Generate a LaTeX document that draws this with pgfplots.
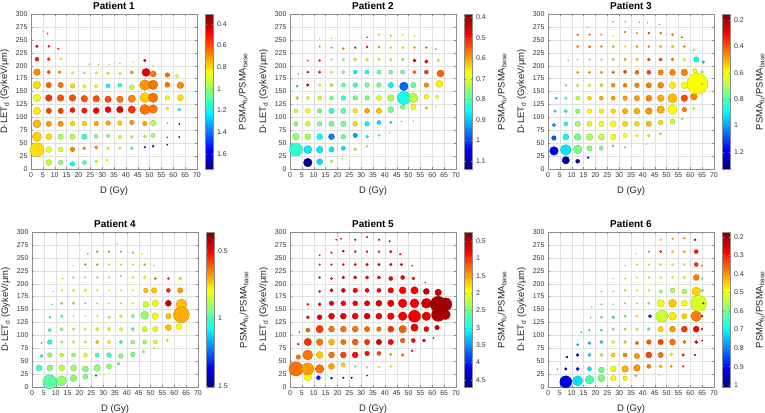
\documentclass[border=0pt]{standalone}
\usepackage{pgfplots}
\pgfplotsset{compat=1.18}
\usepackage{fontspec}
\setmainfont{Liberation Sans}
\pgfplotsset{
  /pgf/number format/assume math mode=true,
  pat/.style={
    scale only axis, width=166bp, height=155bp,
    anchor=south west,
    xmin=0, xmax=70, ymin=0, ymax=300,
    xtick={0,5,...,70}, ytick={0,25,...,300},
    grid=major, grid style={black!12, line width=0.3bp},
    axis line style={black!45, line width=0.4bp},
    every tick/.style={black!45, line width=0.3bp},
    tick align=inside, major tick length=1.8bp,
    ticklabel style={font=\fontsize{7}{8}\selectfont, text=black!80},
    xlabel={D (Gy)},
    ylabel={D·LET\textsubscript{d} (GykeV/μm)},
    label style={font=\fontsize{9.5}{11}\selectfont, text=black!85},
    xlabel style={yshift=-2bp},
    title style={font=\bfseries\fontsize{10}{12}\selectfont, yshift=-5bp},
    colormap/jet,
    colorbar,
    colorbar style={at={(parent axis.north east)}, anchor=north west,
      scale only axis, width=8bp, height=155bp,
      axis line style={black!45, line width=0.4bp},
      every tick/.style={black!45, line width=0.3bp}, major tick length=1.5bp,
      yticklabel style={font=\fontsize{7}{8}\selectfont, text=black!80},
      ylabel={PSMA\textsubscript{fu}/PSMA\textsubscript{base}},
      ylabel style={at={(rel axis cs:4.7,0.5)}, anchor=center, font=\fontsize{9.5}{11}\selectfont, text=black!85}},
  },
  bub/.style={scatter, only marks, mark=*, point meta={-\thisrow{c}},
    visualization depends on={\thisrow{r}\as\rad},
    scatter/@pre marker code/.append style={/tikz/mark size=\rad}},
}
\begin{document}
\begin{tikzpicture}
\path[use as bounding box] (0,0) rectangle (765bp,413bp);
% Patient 1
\begin{axis}[pat, at={(31bp,244bp)}, title={Patient 1},
  point meta min=-1.74, point meta max=-0.31,
  colorbar style={ytick={-1.6,-1.4,-1.2,-1,-0.8,-0.6,-0.4}, yticklabels={1.6,1.4,1.2,1,0.8,0.6,0.4}}]
\addplot[bub] table{
x y r c
2.5 37.5 7 0.8
2.5 62.5 4.7 0.78
2.5 87.5 4 0.75
2.5 112.5 3.7 0.82
2.5 137.5 3.7 0.87
2.5 162.5 3.8 0.8
2.5 187.5 3.3 0.68
2.5 212.5 2 0.55
2.5 237.5 1.3 0.45
7.5 12.5 3 0.92
7.5 37.5 3 0.87
7.5 62.5 3 0.8
7.5 87.5 2.7 0.7
7.5 112.5 2.7 0.58
7.5 137.5 3.3 0.55
7.5 162.5 2.7 0.62
7.5 187.5 1.8 0.6
7.5 212.5 1.5 0.58
7.5 237.5 1 0.5
7 262 0.7 0.65
5 266 0.5 0.8
12.5 12.5 2.3 1.0
12.5 37.5 2.3 0.87
12.5 62.5 2.7 0.95
12.5 87.5 2.7 0.7
12.5 112.5 2.7 0.58
12.5 137.5 3.3 0.6
12.5 162.5 2.7 0.65
12 187.5 1.5 0.7
12.5 213 1 0.85
11.5 233 0.7 0.5
17.5 10 2.3 1.2
17.5 38 2.3 0.68
17.5 62.5 2.7 0.95
17.5 88 2.3 0.78
17.5 114 2.5 0.52
17.5 137.5 3.3 0.6
17.5 161 2.3 0.8
17.5 186 1.2 0.85
22.5 12.5 2 1.08
22.5 40 1.5 0.7
22.5 62.5 2.7 1.12
22.5 88 2.3 0.78
22.5 113 2.7 0.52
22.5 136 3.3 0.6
22.5 160 1.8 0.87
22.5 186 1.2 0.88
24.5 203 0.6 0.85
27.5 15 1.3 0.9
27.5 42 1.5 0.68
27.5 63 2 1.0
27.5 88 2.3 0.72
27.5 113 3 0.48
27.5 136 3.3 0.6
27.5 160 1.8 0.87
27.5 186 1.2 0.85
28.5 202 0.5 0.75
32 17 1 0.88
32.5 40 1.3 0.92
32.5 64 1.8 1.0
32.5 89 2.3 0.72
32.5 115 3 0.48
32.5 135 3.3 0.6
32.5 161 2 1.2
32.5 185 1.3 0.82
33 202 0.5 0.8
37.5 40 1.2 0.93
37.5 62 1.8 0.87
37.5 89 2.3 0.78
37.5 115 3.3 0.47
37.5 135 3.3 0.65
37.5 162 2 1.12
37.5 185 1.3 0.85
37.5 204 0.5 0.8
42.5 40 1.2 1.15
42.5 62 1.5 0.87
42.5 90 2.3 0.7
42.5 115 3.7 0.55
42.5 136 3.7 0.68
42.5 158 2.5 0.93
42.5 187 1.7 0.72
43 207 0.5 0.85
48 42 1 1.45
48 63 1.5 0.92
48 88 2.3 0.72
48 115 5 0.65
48 138 5 0.78
48 162.5 5.3 0.7
48.5 187 4 0.45
48 210 1.3 0.45
51.5 44 1 1.6
51.5 65 2 1.0
51.5 89 2.7 0.95
51.5 116 4.3 0.65
51.5 138 4.7 0.65
51.5 163 4.7 0.65
51.5 184 3 0.65
51.5 200 0.5 0.8
57.5 47 0.6 1.6
57.5 61 0.6 1.4
57.5 89 0.5 1.2
57.5 117 1.5 0.87
57.5 137.5 2.3 0.85
57.5 163 2.5 0.65
57.5 182 2.3 0.65
62.5 62 0.6 1.65
62.5 87 0.6 1.7
62.5 115 1.5 1.2
63 138 3 0.8
63 162 3.3 0.68
61.5 180 1.7 0.85
};
\end{axis}
% Patient 2
\begin{axis}[pat, at={(290bp,244bp)}, title={Patient 2},
  point meta min=-1.14, point meta max=-0.384,
  colorbar style={ytick={-1.1,-1,-0.9,-0.8,-0.7,-0.6,-0.5,-0.4}, yticklabels={1.1,1,0.9,0.8,0.7,0.6,0.5,0.4}}]
\addplot[bub] table{
x y r c
2.5 37.5 6.5 0.82
2.5 62.5 3.3 0.75
2.5 87.5 2.3 0.76
2.5 112.5 2 0.7
3 137.5 1.5 0.62
3 160 1 0.9
3.5 184 0.6 0.8
7.5 12.5 4.3 1.13
7.5 37.5 4 0.87
7.5 62.5 3 0.73
7.5 87.5 2.5 0.7
7.5 112.5 2.3 0.68
7.5 137.5 1.7 0.68
7.5 162.5 1.3 0.45
7.5 187.5 1 0.45
7.5 210 0.6 0.5
12.5 14 3 0.88
12.5 37.5 3.3 0.87
12.5 62.5 3 0.85
12.5 87.5 2.3 0.77
12.5 112.5 2.3 0.77
12.5 137.5 2 0.7
12.5 162.5 1.3 0.68
12.5 187.5 1.3 0.52
12.5 210 1 0.5
12.5 237 0.8 0.6
12.5 252 0.5 0.7
17.5 15 1.7 0.72
17.5 38 2.7 0.87
17.5 62.5 3 0.95
17.5 87.5 2.7 0.77
17.5 112.5 2.7 0.82
17.5 137.5 2 0.77
17.5 162.5 1.7 0.72
17.5 187.5 1.3 0.68
17.5 212 1 0.68
17.5 235 0.8 0.6
17.5 253 0.5 0.7
22 20 0.5 0.7
22.5 40 2 0.88
22.5 62.5 2.3 0.78
22.5 87.5 2.7 0.77
22.5 112.5 2.7 0.78
22.5 137.5 2.3 0.82
22.5 162.5 2 0.78
22.5 187.5 1.7 0.76
22.5 212 1.3 0.7
22.5 233 1 0.6
27.5 38 1.5 0.72
27.5 65 2.3 0.92
27.5 87.5 2.3 0.64
27.5 112.5 2.3 0.65
27.5 137.5 2.3 0.77
27.5 162.5 2.3 0.82
27.5 187.5 2 0.85
27.5 212 1.5 0.65
27.5 235 1 0.5
32.5 44 0.8 0.77
32.5 62.5 1.5 0.85
32.5 87.5 2.3 0.86
32.5 112.5 2.5 0.6
32.5 137.5 2.3 0.77
32.5 162.5 2.3 0.77
32.5 187.5 2 0.85
32.5 212 1.5 0.68
32.5 236 1 0.5
32.5 255 0.5 0.5
37.5 65 1 0.78
37.5 90 2 0.88
37.5 112.5 2.7 0.62
37.5 137.5 2.5 0.68
37.5 162.5 2.3 0.77
37.5 187.5 2 0.78
37.5 212 1.3 0.7
37.5 236 1 0.6
37.5 260 0.6 0.6
42 70 0.5 0.7
42.5 90 1.2 0.87
42.5 115 3 0.77
42.5 137.5 3.3 0.73
42.5 162.5 2.7 0.86
42.5 187.5 2 0.78
42.5 212 1.3 0.7
42.5 235 1 0.7
42.5 258 0.6 0.6
47 92 0.7 0.7
47.5 120 2.3 0.77
48 137.5 6.5 0.84
48 160 4.3 0.97
47.5 187.5 2 0.78
47.5 212 1.3 0.76
47.5 235 1 0.7
47.5 260 0.6 0.68
52 93 0.5 0.7
52 120 2.7 0.68
52 137.5 4.7 0.72
52 162.5 2.7 0.78
52.5 187.5 1.7 0.55
52.5 210 1.5 0.45
52.5 235 1 0.6
52.5 258 0.6 0.68
57.5 118 1.2 0.62
57.5 140 2.3 0.66
57.5 162.5 2.3 0.58
57.5 187.5 2 0.52
57.5 208 1.7 0.48
57.5 235 1 0.58
61.5 120 0.6 0.68
62 140 1.7 0.68
63 165 3.5 0.66
63.5 185 3.5 0.55
62.5 210 1.3 0.68
61.5 232 0.6 0.6
};
\end{axis}
% Patient 3
\begin{axis}[pat, at={(548bp,244bp)}, title={Patient 3},
  point meta min=-1.33, point meta max=-0.155,
  colorbar style={ytick={-1.2,-1,-0.8,-0.6,-0.4,-0.2}, yticklabels={1.2,1,0.8,0.6,0.4,0.2}}]
\addplot[bub] table{
x y r c
2.5 35 4.3 1.2
2.5 60 2.3 1.08
2.5 85 1.7 1.0
3 112 1.3 0.92
3.5 137 1 0.95
7.5 17 3.7 1.28
7.5 37 5.3 0.92
7.5 62 3 0.88
7.5 87.5 2 0.88
7.5 112 1.7 0.84
7.5 137 1.3 0.78
7.5 162 1 0.68
8.5 210 0.6 0.7
12.5 15 2 1.3
12.5 38 4.3 0.75
12.5 62 3.3 0.76
12.5 87.5 2.7 0.7
12.5 112 2.3 0.74
12.5 137 2 0.68
12.5 162 1.3 0.62
12.5 187 1 0.5
12.5 212 0.7 0.6
12.5 237 1 0.45
12.5 260 0.8 0.4
17 22 1 1.15
17.5 40 2.7 0.74
17.5 62 3.3 0.68
17.5 87.5 2.7 0.63
17.5 112 2.3 0.6
17.5 137 2 0.55
17.5 162 1.5 0.6
17.5 187 1.3 0.5
17.5 212 0.8 0.6
17.5 237 1 0.4
17.5 260 0.8 0.4
16.5 275 0.5 0.6
22.5 40 2 0.75
22.5 62 3 0.66
22.5 87.5 2.7 0.62
22.5 112 2.3 0.58
22.5 137 2 0.5
22.5 162 1.7 0.55
22.5 187 1.3 0.5
22.5 212 1 0.6
22.5 237 1 0.48
22.5 260 0.7 0.48
27.5 45 1 0.85
27.5 62 2.7 0.6
27.5 87.5 3 0.6
27.5 112 2.3 0.55
27.5 137 2 0.48
27.5 162 2 0.48
27.5 187 1.5 0.45
27.5 212 1.2 0.55
27.5 237 1 0.5
27.5 257 0.6 0.6
27.5 285 0.5 0.45
32.5 42 0.8 0.75
32.5 65 2 0.6
32.5 87.5 2.7 0.55
32.5 112 2.7 0.5
32.5 137 2.3 0.48
32.5 162 2 0.45
32.5 188 1.7 0.38
32.5 212 1.2 0.5
32.5 237 0.8 0.6
32.5 265 0.8 0.45
32.5 285 0.5 0.5
37.5 65 1.3 0.6
37.5 87.5 2.5 0.55
37.5 112 3 0.5
37.5 137 2.7 0.48
37.5 162 2.3 0.45
37.5 187 2 0.42
37.5 212 1.3 0.55
37.5 237 1 0.5
37.5 263 0.8 0.5
38.5 284 0.5 0.5
41.5 48 0.5 0.7
42.5 65 1.3 0.58
42.5 87.5 2.7 0.52
42.5 112 3.3 0.47
42.5 137 3 0.45
42.5 162 2.7 0.45
42.5 187 2 0.38
42.5 212 1.5 0.4
42.5 237 1 0.48
42.5 263 1 0.38
42 283 0.5 0.5
47.5 68 1.3 0.68
47.5 90 2.3 0.55
47.5 115 3.8 0.5
47.5 137 3.3 0.5
47.5 162 3 0.45
47.5 187 2.7 0.45
47.5 212 1.7 0.4
47.5 237 1.3 0.55
47.5 263 1 0.45
47 280 0.5 0.45
52.5 92 2.7 0.66
52.5 115 4.7 0.6
52.5 137 4.7 0.52
52.5 162 3.3 0.58
52.5 187 3 0.45
52.5 212 1.5 0.45
52.5 237 1.3 0.55
52.5 260 1 0.45
56.5 97 1 0.72
57.5 115 2.3 0.45
57.5 137 3.3 0.38
57.5 162 3.3 0.6
57.5 187 3.3 0.45
57.5 212 1.5 0.6
57.5 237 1 0.45
56.5 255 0.6 0.35
61.5 117 1.3 0.66
61.5 140 3.3 0.45
62 190 2.3 0.62
63 165 10.5 0.6
62.5 212 2.7 0.88
61.5 230 1 0.62
65 165 1 0.62
65 188 1.3 0.75
65.5 207 1.3 0.95
};
\end{axis}
% Patient 4
\begin{axis}[pat, at={(32bp,26bp)}, title={Patient 4},
  point meta min=-1.51, point meta max=-0.36,
  colorbar style={ytick={-1.5,-1,-0.5}, yticklabels={1.5,1,0.5}}]
\addplot[bub] table{
x y r c
3 37 3 1.0
4 60 1.3 1.08
4 85 0.6 1.12
7.5 10 7 0.98
7.5 37 3 0.93
7.5 62 2.3 0.93
7.5 87 2.3 1.05
7.5 110 1.7 1.0
7.5 135 1 1.05
8.5 160 0.5 1.0
9 185 0.5 0.9
12.5 12 5 0.92
12.5 37 3 0.85
12.5 62 2 0.85
12.5 87 1.3 0.87
12.5 112 1.7 0.92
12.5 137 1.3 0.98
12.5 162 1.3 0.93
12.5 187 0.8 0.8
13 210 0.6 0.8
17.5 17 3.3 0.92
17.5 37 3 0.9
17.5 62 2 0.92
17.5 87 1.3 0.8
17.5 112 1.2 0.8
17.5 137 0.7 0.8
17.5 162 1.3 0.9
17.5 187 1 0.8
17.5 212 1 0.8
17.5 235 0.5 0.8
22.5 20 2.5 0.93
22.5 35 3 0.93
22.5 62 2 0.8
22.5 87 1.3 0.78
22.5 112 1.2 0.8
22.5 137 0.6 0.85
22.5 162 0.8 0.9
22.5 187 1 0.8
22.5 212 1 0.8
22.5 237 1 0.68
23.5 258 0.6 0.7
27 22 0.8 1.3
27.5 37 3.3 0.92
27.5 62 2 1.0
27.5 87 1.7 0.72
27.5 112 1.7 0.78
27.5 137 0.7 0.8
27.5 162 0.7 0.8
27.5 187 0.8 0.8
27.5 212 1 0.8
27.5 237 1 0.7
27.5 262 1 0.68
32.5 40 2.5 0.92
32.5 62 2.3 1.0
32.5 87 1.7 0.78
32.5 112 1.7 0.78
32.5 135 1.2 0.78
32.5 162 0.6 0.8
32.5 187 0.6 0.85
32.5 212 0.8 0.8
32.5 237 0.8 0.78
32.5 262 1 0.7
36.5 45 1.3 0.95
37.5 60 2.3 0.92
37.5 87 1.7 1.05
37.5 112 1.7 0.8
37.5 137 1.5 0.8
37.5 162 0.7 0.8
37.5 187 0.6 0.85
37.5 215 0.8 0.9
37.5 237 0.8 0.8
37.5 262 0.8 0.7
36 277 0.5 0.8
42.5 63 2.3 0.93
42.5 87 2 0.92
42.5 112 1.7 0.98
42.5 137 1.7 0.92
42.5 162 0.8 0.8
42.5 187 0.8 0.8
42.5 212 1 0.8
42.5 237 0.8 0.8
42.5 260 0.8 0.7
47 68 1.3 0.92
47.5 87 2 0.92
47.5 112 2.7 0.85
47.5 139 4 0.92
48 160 3 0.85
48 187 2.3 0.72
47.5 212 1.3 0.8
47.5 237 1 0.7
46.5 257 0.5 0.8
51.5 75 0.6 0.85
52 87 2 0.82
52 112 2.7 0.78
52 137 3.3 0.8
52 162 3.3 0.8
51.5 187 2.7 0.72
52 210 1 0.6
51.5 235 0.6 0.8
57 90 1.3 0.82
57.5 115 3 0.72
57.5 137 2.7 0.72
57.5 162 3 0.45
57.5 187 2 0.55
57.5 210 1 0.5
62 117 3 0.8
63 160 5.3 0.72
63 140 8 0.7
62.5 187 2.7 0.68
62.5 210 1.3 0.75
};
\end{axis}
% Patient 5
\begin{axis}[pat, at={(290bp,26bp)}, title={Patient 5},
  point meta min=-4.71, point meta max=-0.24,
  colorbar style={ytick={-4.5,-4,-3.5,-3,-2.5,-2,-1.5,-1,-0.5}, yticklabels={4.5,4,3.5,3,2.5,2,1.5,1,0.5}}]
\addplot[bub] table{
x y r c
2.5 35 7 1.3
3.5 58 2.3 1.3
3.5 83 1 0.9
4 106 0.5 1.0
7.5 20 4 1.9
7.5 35 6 1.5
7.5 62 5 1.3
7.5 87 3.7 1.0
7.5 110 2 1.2
7.5 135 1.5 0.7
7.5 160 1 0.7
12 18 2 4.0
12.5 35 4.3 1.3
12.5 62 3.5 1.7
12.5 87 3.3 1.3
12.5 112 3.7 1.05
12.5 135 2.5 0.7
12.5 160 1.5 0.75
12.5 185 1 0.7
12.5 212 1 0.7
12.5 237 0.8 0.8
12.5 255 0.6 0.8
17.5 17 1 4.6
17.5 40 3 1.5
17.5 62 3 1.3
17.5 87 3 1.6
17.5 112 3 1.3
17.5 137 3 0.75
17.5 162 2.3 0.8
17.5 187 1.7 0.7
17.5 210 1 0.8
17.5 237 0.8 0.8
17.5 260 0.8 0.8
19.5 285 0.5 0.8
22.5 18 0.8 4.6
22.5 43 2 1.7
22.5 62 3 1.1
22.5 87 2.7 1.3
22.5 112 3 1.3
22.5 137 3 0.7
22.5 162 2.5 0.8
22.5 187 2 0.7
22.5 212 1.5 0.75
22.5 237 1 0.8
22.5 263 1 0.7
21.5 287 0.6 0.8
26 18 0.8 4.5
27.5 40 1 2.5
27.5 62 3 0.85
27.5 87 3 1.2
27.5 112 3 1.3
27.5 137 3 0.7
27.5 162 2.5 0.75
27.5 187 2.3 0.8
27.5 212 1.7 0.8
27.5 237 1.2 0.8
27.5 262 1 0.7
27.5 285 0.8 0.8
32.5 22 0.6 4.0
32.5 38 1 2.2
32.5 65 2.3 0.85
32.5 87 2.7 1.0
32.5 112 2.7 1.25
32.5 137 3 0.6
32.5 162 2.7 0.7
32.5 187 2 0.75
32.5 212 1.7 0.75
32.5 237 1.3 0.8
32.5 262 1 0.8
32.5 290 0.8 0.8
37.5 38 1 1.9
37.5 65 2 1.1
37.5 87 2.7 0.6
37.5 112 2.3 1.3
37.5 137 3 0.7
37.5 162 3 0.7
37.5 187 2 0.8
37.5 212 1.7 0.75
37.5 237 1.3 0.8
37.5 262 1 0.75
37.5 285 0.8 0.8
42.5 40 1 1.9
42.5 63 1.3 1.6
42.5 87 2.7 0.8
42.5 112 3 1.0
42.5 137 3.3 0.75
42.5 162 3.3 0.7
42.5 187 2.7 0.75
42.5 210 2 0.75
42.5 237 1.3 0.8
42.5 262 1.3 0.8
42 282 0.8 0.8
47.5 62 1.3 1.3
47.5 90 2.3 1.2
47.5 112 3.7 1.2
47.5 137 4.3 0.8
47.5 162 4.3 0.75
47.5 187 3.5 0.8
47.5 212 2 0.75
47 237 1.3 0.8
46.5 257 0.8 0.8
51.5 70 1 0.8
52 90 2 0.8
52.5 115 3.7 0.7
52.5 137 6 0.75
52.5 162 4.5 0.75
52.5 187 3.7 0.75
52 210 1.5 0.8
51.5 235 0.6 1.0
56.5 90 1.5 0.8
57.5 112 2.5 0.7
57.5 137 4.3 0.7
57.5 162 5 0.6
57.5 185 3 0.5
57 202 0.5 0.7
60.5 95 0.6 0.8
62 115 2.3 0.6
62.5 183 3.3 0.55
62.5 140 6.7 0.45
62.5 160 8 0.4
65.5 140 5 0.45
65.5 160 6.5 0.4
};
\end{axis}
% Patient 6
\begin{axis}[pat, at={(548bp,26bp)}, title={Patient 6},
  point meta min=-1.01, point meta max=-0.173,
  colorbar style={ytick={-1,-0.9,-0.8,-0.7,-0.6,-0.5,-0.4,-0.3,-0.2}, yticklabels={1,0.9,0.8,0.7,0.6,0.5,0.4,0.3,0.2}}]
\addplot[bub] table{
x y r c
4 35 0.6 0.7
7.5 10 6 0.93
7.5 35 1.3 1.0
8 58 1 0.95
12.5 12 5 0.72
12.5 35 1.7 0.9
12.5 62 1.5 0.9
12.5 82 1 0.78
14 106 0.5 0.75
17.5 14 4.3 0.64
17.5 35 2 0.72
17.5 62 1.7 0.72
17.5 85 1.5 0.75
17.5 110 0.8 0.75
18 135 0.5 0.7
18.5 155 0.5 0.7
22.5 17 3.5 0.6
22.5 33 3 0.6
22.5 62 1.7 0.56
22.5 87 1.7 0.72
22.5 110 1 0.7
22.5 135 1 0.7
22.5 160 0.7 0.6
22.5 185 0.6 0.6
27.5 17 2.7 0.5
27.5 35 3 0.5
27.5 62 2 0.45
27.5 87 1.5 0.5
27.5 112 1.3 0.6
27.5 135 1.3 0.68
27.5 160 0.6 0.6
27.5 185 0.6 0.6
27.5 210 0.5 0.55
32.5 17 2.3 0.47
32.5 35 3.3 0.42
32.5 62 2 0.38
32.5 87 1.5 0.45
32.5 112 1.3 0.55
32.5 137 1.3 0.6
32.5 162 0.8 0.6
32.5 187 0.8 0.45
32.5 210 0.6 0.5
32.5 235 0.5 0.5
37 22 1.3 0.44
37.5 37 3.3 0.4
37.5 60 2.7 0.4
37.5 85 1.7 0.35
37.5 112 1.3 0.5
37.5 137 1.2 0.5
37.5 162 0.8 0.5
37.5 187 0.8 0.5
37.5 212 0.7 0.5
37.5 237 0.8 0.48
37 258 0.5 0.5
42.5 40 2 0.38
42.5 62 3 0.33
42.5 87 2.3 0.35
42.5 112 1.5 0.62
43 137 1.7 0.85
42.5 162 1.2 0.6
42.5 187 1 0.5
42.5 212 1 0.5
42.5 237 0.8 0.5
42.5 262 0.8 0.4
47 22 0.6 0.5
47.5 40 1.5 0.44
47.5 62 2.7 0.37
47.5 87 2.7 0.33
47.5 112 2.7 0.45
47.5 162 3.7 0.5
48 137 6 0.53
47.5 185 1.7 0.57
47.5 212 1 0.5
47.5 237 1 0.45
47.5 262 1 0.3
47.5 285 1 0.48
52 40 1 0.4
52 63 1.7 0.5
52.5 87 3 0.37
52.5 112 3 0.4
52.5 137 4 0.47
52.5 162 4 0.44
52.5 187 2.3 0.55
52.5 212 1 0.5
52.5 237 1 0.5
52.5 262 1 0.45
52.5 287 0.8 0.42
57 40 0.8 0.28
57 62 1.3 0.3
57.5 87 1.7 0.38
57.5 112 3 0.32
57.5 137 2.7 0.45
57.5 162 3 0.5
57.5 185 2.5 0.56
57.5 212 1.3 0.5
57.5 237 1 0.5
57.5 262 1 0.42
57.5 288 1 0.42
62 62 0.8 0.25
62.5 87 1.5 0.25
62.5 112 3 0.27
62.5 137 5.3 0.38
62.5 185 4.3 0.45
62.5 212 3 0.38
62.5 237 2 0.32
62.5 262 2 0.3
62 285 1 0.25
63.5 162 8 0.52
65 90 0.6 0.25
65 112 0.8 0.25
65 137 1 0.25
65.5 162 0.8 0.2
65 187 1.5 0.58
65 210 1 0.6
65 235 0.8 0.4
};
\end{axis}
\end{tikzpicture}
\end{document}
